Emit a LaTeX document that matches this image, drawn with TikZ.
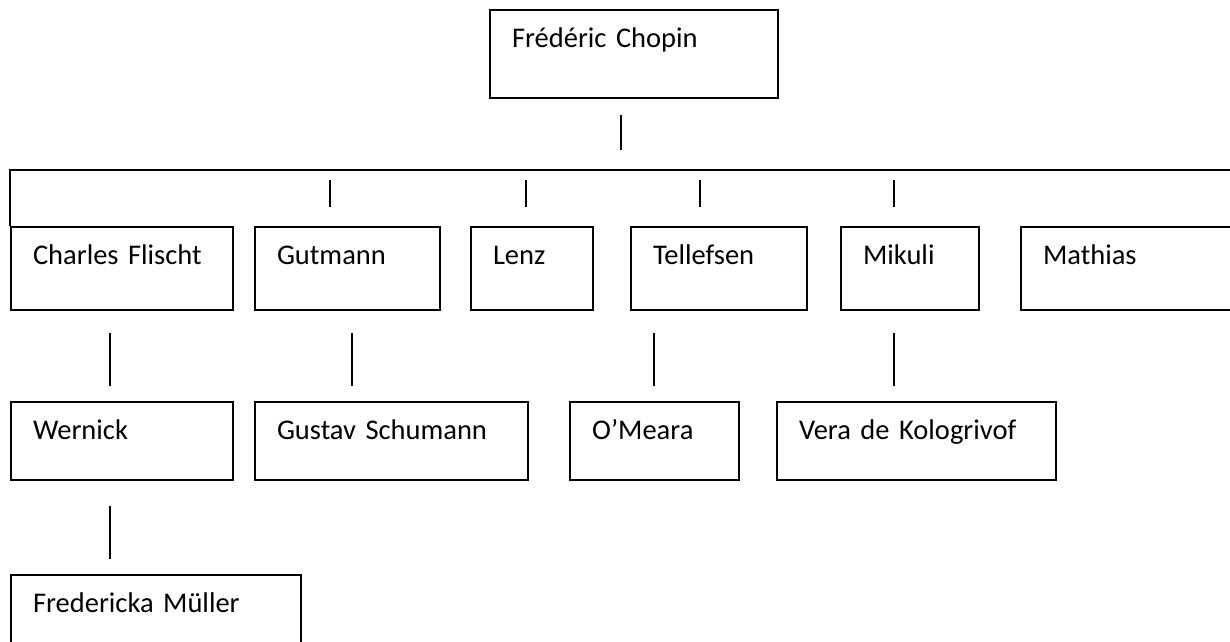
\documentclass[tikz,border=0pt]{standalone}
\usepackage{fontspec}
\setmainfont{Carlito}
\begin{document}
\begin{tikzpicture}[x=1pt,y=-1pt,
  person/.style={draw, line width=2pt, fill=white, anchor=north west,
    inner xsep=22pt, inner ysep=0pt, text height=37pt, align=left,
    font=\fontsize{28.5}{34}\selectfont},
  tall/.style={text depth=51pt},
  mid/.style={text depth=46pt},
  low/.style={text depth=41pt},
  link/.style={line width=1.8pt}]
\useasboundingbox (0,0) rectangle (1230,641);
\clip (0,0) rectangle (1230,641);

% teacher
\node[person, tall, text width=244pt] (chopin) at (489,9) {Frédéric Chopin};

% pupils
\node[person, mid, text width=178pt] (charles)   at (10,226)   {Charles Flischt};
\node[person, mid, text width=141pt] (gutmann)   at (254,226)  {Gutmann};
\node[person, mid, text width=78pt]  (lenz)      at (470,226)  {Lenz};
\node[person, mid, text width=132pt] (tellefsen) at (630,226)  {Tellefsen};
\node[person, mid, text width=94pt]  (mikuli)    at (840,226)  {Mikuli};
\node[person, mid, text width=181pt] (mathias)   at (1020,226) {Mathias};

% second generation
\node[person, low, text width=178pt] (wernick) at (10,401)  {Wernick};
\node[person, low, text width=229pt] (gustav)  at (254,401) {Gustav Schumann};
\node[person, low, text width=125pt] (omeara)  at (569,401) {O’Meara};
\node[person, low, text width=235pt] (vera)    at (776,401) {Vera de Kologrivof};

% third generation
\node[person, mid, text width=246pt] (muller) at (10,574) {Fredericka Müller};

% bracket over the pupils
\coordinate (bracketend) at (1240,170);
\draw[link] (charles.north west) |- (bracketend);

% short connector strokes
\coordinate (c0a) at (621,115); \coordinate (c0b) at (621,150);
\coordinate (c1a) at (330,180); \coordinate (c1b) at (330,207);
\coordinate (c2a) at (526,180); \coordinate (c2b) at (526,207);
\coordinate (c3a) at (700,180); \coordinate (c3b) at (700,207);
\coordinate (c4a) at (894,180); \coordinate (c4b) at (894,207);
\coordinate (d1a) at (110,333); \coordinate (d1b) at (110,386);
\coordinate (d2a) at (352,333); \coordinate (d2b) at (352,386);
\coordinate (d3a) at (654,333); \coordinate (d3b) at (654,386);
\coordinate (d4a) at (894,333); \coordinate (d4b) at (894,386);
\coordinate (e1a) at (110,506); \coordinate (e1b) at (110,559);
\foreach \a/\b in {c0a/c0b,c1a/c1b,c2a/c2b,c3a/c3b,c4a/c4b,
                   d1a/d1b,d2a/d2b,d3a/d3b,d4a/d4b,e1a/e1b}
  \draw[link] (\a) -- (\b);
\end{tikzpicture}
\end{document}
